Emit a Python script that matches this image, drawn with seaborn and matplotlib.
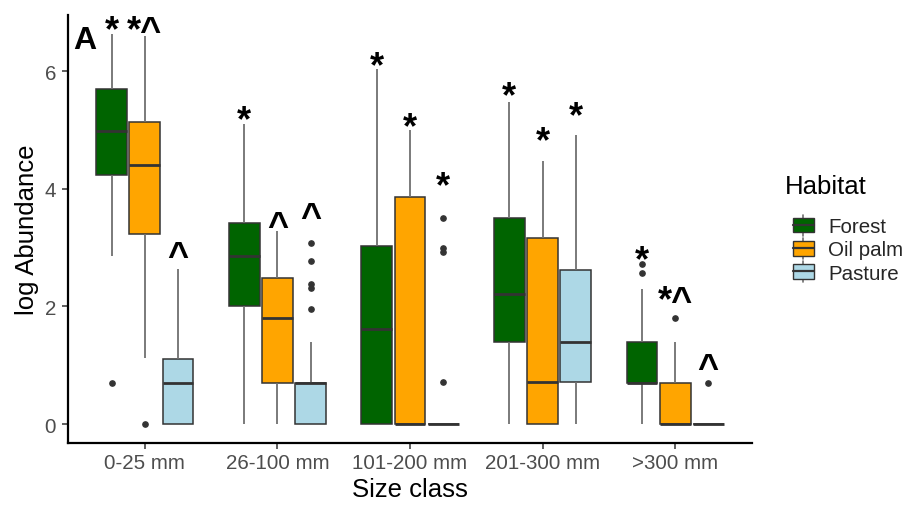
import numpy as np
import pandas as pd
import matplotlib
matplotlib.use("Agg")
import matplotlib.pyplot as plt
import seaborn as sns
from matplotlib.legend_handler import HandlerBase
from matplotlib.patches import Rectangle, Patch
from matplotlib.lines import Line2D

# ---------------- data ----------------
size_classes = ["0-25 mm", "26-100 mm", "101-200 mm", "201-300 mm", ">300 mm"]
habitats = ["Forest", "Oil palm", "Pasture"]
colors = ["#006400", "#FFA500", "#ADD8E6"]

# five-number summaries (lower whisker, Q1, median, Q3, upper whisker) + outliers
forest_lo = [2.85, 0.00, 0.00, 0.00, 0.00]
forest_q1 = [4.23, 2.01, 0.00, 1.39, 0.69]
forest_med = [4.99, 2.85, 1.62, 2.21, 0.69]
forest_q3 = [5.70, 3.42, 3.02, 3.51, 1.39]
forest_hi = [6.63, 5.10, 6.03, 5.48, 2.30]
forest_out = [[0.70], [], [], [], [2.57, 2.72]]

oil_lo = [1.12, 0.00, 0.00, 0.00, 0.00]
oil_q1 = [3.23, 0.70, 0.00, 0.00, 0.00]
oil_med = [4.40, 1.80, 0.00, 0.71, 0.00]
oil_q3 = [5.13, 2.49, 3.86, 3.16, 0.70]
oil_hi = [6.60, 3.29, 5.00, 4.48, 1.39]
oil_out = [[0.00], [], [], [], [1.80]]

pasture_lo = [0.00, 0.00, 0.00, 0.00, 0.00]
pasture_q1 = [0.00, 0.00, 0.00, 0.71, 0.00]
pasture_med = [0.70, 0.69, 0.00, 1.39, 0.00]
pasture_q3 = [1.10, 0.69, 0.00, 2.62, 0.00]
pasture_hi = [2.64, 1.39, 0.00, 4.91, 0.00]
pasture_out = [[], [1.96, 2.31, 2.38, 2.78, 3.08], [0.71, 2.93, 3.00, 3.50], [], [0.69]]

# significance labels and their heights
forest_lab = ["*", "*", "*", "*", "*"]
oil_lab = ["*^", "^", "*", "*", "*^"]
pasture_lab = ["^", "^", "*", "*", "^"]
forest_lab_y = [6.86, 5.33, 6.26, 5.75, 2.96]
oil_lab_y = [6.85, 3.54, 5.22, 4.97, 2.26]
pasture_lab_y = [3.02, 3.69, 4.22, 5.41, 1.12]

summaries = {
    "Forest": (forest_lo, forest_q1, forest_med, forest_q3, forest_hi, forest_out),
    "Oil palm": (oil_lo, oil_q1, oil_med, oil_q3, oil_hi, oil_out),
    "Pasture": (pasture_lo, pasture_q1, pasture_med, pasture_q3, pasture_hi, pasture_out),
}
labels = {"Forest": (forest_lab, forest_lab_y),
          "Oil palm": (oil_lab, oil_lab_y),
          "Pasture": (pasture_lab, pasture_lab_y)}

# build a sample for each box that reproduces the summary
BLOCK = 20
rows = []
for hab in habitats:
    lo, q1, med, q3, hi, out = summaries[hab]
    for i, sc in enumerate(size_classes):
        vals = [lo[i]] + [q1[i]] * BLOCK + [med[i]] * BLOCK + [q3[i]] * BLOCK + [hi[i]] + list(out[i])
        rows += [(sc, hab, v) for v in vals]
df = pd.DataFrame(rows, columns=["Size class", "Habitat", "log Abundance"])

# ---------------- plot ----------------
sns.set_theme(style="white")
plt.rcParams["font.family"] = ["Liberation Sans", "DejaVu Sans"]

W, H = 907, 506
fig = plt.figure(figsize=(W / 100, H / 100), dpi=100)
ax = fig.add_axes([68 / W, 1 - 444 / H, (752 - 68) / W, (444 - 15.5) / H])

sns.boxplot(
    data=df, x="Size class", y="log Abundance", hue="Habitat",
    order=size_classes, hue_order=habitats, palette=colors,
    saturation=1, width=0.75, gap=0.07, whis=1.5,
    linecolor="#333333", linewidth=1.1, fliersize=3.8,
    flierprops=dict(marker="o", markerfacecolor="#333333", markeredgecolor="#333333"),
    whiskerprops=dict(color="#707070", linewidth=1.3),
    capprops=dict(linewidth=0),
    medianprops=dict(color="#333333", linewidth=2.0),
    legend=False, ax=ax,
)

ax.set_xlim(-0.58, 4.58)
ax.set_ylim(-0.323, 6.964)
ax.set_yticks([0, 2, 4, 6])
for s in ["top", "right"]:
    ax.spines[s].set_visible(False)
for s in ["left", "bottom"]:
    ax.spines[s].set_color("black")
    ax.spines[s].set_linewidth(1.6)
ax.tick_params(axis="both", which="major", length=4, width=1.1, color="#333333",
               labelcolor="#4D4D4D", labelsize=14.8)
ax.tick_params(axis="x", pad=3)
ax.tick_params(axis="y", pad=4.5, left=True)
ax.tick_params(axis="x", bottom=True)
ax.set_xlabel("Size class", fontsize=18.5, color="black", labelpad=4)
ax.set_ylabel("log Abundance", fontsize=18.5, color="black", labelpad=4)

# significance labels
FS = 26
offsets = [-0.25, 0.0, 0.25]
for j, hab in enumerate(habitats):
    labs, ys = labels[hab]
    for i in range(len(size_classes)):
        ax.annotate(labs[i], xy=(i + offsets[j], ys[i]), xytext=(0, -0.55 * FS),
                    textcoords="offset points", ha="center", va="baseline",
                    fontsize=FS, fontweight="bold", color="black")

# panel letter
ax.text(0.007, 0.975, "A", transform=ax.transAxes, ha="left", va="top",
        fontsize=23, fontweight="bold", color="black")


# ggplot-like legend keys
class GGBoxHandler(HandlerBase):
    def create_artists(self, legend, orig_handle, xdescent, ydescent, width, height, fontsize, trans):
        fc = orig_handle.get_facecolor()
        bw = 0.72 * width
        x0 = -xdescent + width - bw
        y0 = -ydescent
        cx = x0 + bw / 2
        whisk = Line2D([cx, cx], [y0 - 0.22 * height, y0 + 1.22 * height],
                       color="#707070", lw=1.2, transform=trans)
        rect = Rectangle((x0, y0), bw, height, facecolor=fc, edgecolor="#333333",
                         lw=1.0, transform=trans)
        med = Line2D([x0, x0 + bw], [y0 + height / 2] * 2, color="#333333", lw=1.6,
                     transform=trans)
        return [whisk, rect, med]


handles = [Patch(facecolor=c, label=h) for h, c in zip(habitats, colors)]
fig.legend(handles=handles, labels=habitats, loc="center left",
           bbox_to_anchor=(785 / W, 1 - 251 / H), frameon=False, fontsize=14.8,
           handlelength=1.4, handleheight=0.7, handletextpad=0.7, labelspacing=0.2,
           borderpad=0, borderaxespad=0, handler_map={Patch: GGBoxHandler()})
fig.text(785 / W, 1 - 187 / H, "Habitat", ha="left", va="center", fontsize=18.5,
         color="black")

fig.savefig("out.png", dpi=100)
